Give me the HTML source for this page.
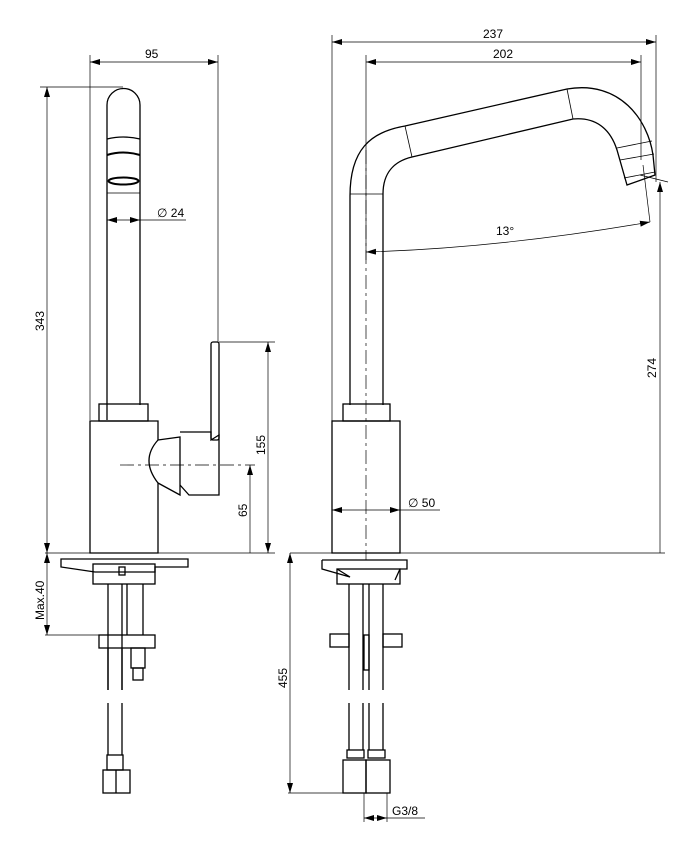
<!DOCTYPE html>
<html><head><meta charset="utf-8"><style>
html,body{margin:0;padding:0;background:#fff;}
svg{display:block;}
text{font-family:"Liberation Sans",sans-serif;font-size:12px;fill:#000;}
</style></head><body>
<svg width="686" height="848" viewBox="0 0 686 848" xmlns="http://www.w3.org/2000/svg">
<defs>
<marker id="a" viewBox="0 0 10 6" refX="10" refY="3" markerWidth="10" markerHeight="6" orient="auto-start-reverse" markerUnits="userSpaceOnUse"><path d="M0,0L10,3L0,6z" fill="#000"/></marker>
</defs>
<g fill="none" stroke="#000" stroke-width="1.3">
<!-- LEFT VIEW -->
<path d="M107,420 V105 A16.5,16.5 0 0 1 140,105 V405"/>
<path d="M107,139 Q123,135 140,139"/>
<path d="M107,155 Q123,150 140,155" stroke-width="2"/>
<ellipse cx="123.5" cy="181" rx="15" ry="3.5" stroke-width="2"/>
<line x1="107" y1="193" x2="140" y2="193" stroke-width="0.8"/>
<rect x="99" y="404" width="49" height="17"/>
<path d="M90,421 H158 V440 Q140,460 158,483 V553 H90 Z"/>
<path d="M158,440 L180,437 V495 L158,483"/>
<path d="M180,432 H211 V440 L219,435 V495 H189 L180,485"/>
<rect x="211" y="342" width="8" height="98" rx="2"/>
<!-- RIGHT VIEW -->
<path d="M350,405 V196 C350,150 370,132 405,126 L567,89 C620,80 648,120 653,155 L655,175 L627,185 L617,150 C610,128 595,117 573,119 L412,157 C395,161 383,172 383,194 V405"/>
<line x1="405" y1="126" x2="412" y2="157" stroke-width="0.8"/>
<line x1="567" y1="89" x2="573" y2="119" stroke-width="0.8"/>
<line x1="350" y1="194" x2="383" y2="194" stroke-width="0.8"/>
<path d="M617,148 L652,141 M620,160 L654,154 M624,178 L655,172" stroke-width="0.8"/>
<rect x="343" y="404" width="47" height="17"/>
<rect x="332" y="421" width="68" height="132"/>
<!-- bottom left -->
<path d="M61,559 H188 V567 H155 L155,572 L95,572 L61,567 Z"/>
<rect x="93" y="564" width="62" height="20"/>
<rect x="119" y="567" width="6" height="8"/>
<path d="M108,584 V690 M122,584 V690 M127,584 V635 M143,584 V635"/>
<rect x="99" y="635" width="56" height="13"/>
<path d="M108,648 V690 M122,648 V690"/>
<rect x="131" y="648" width="14" height="20"/>
<rect x="133" y="668" width="10" height="12"/>
<path d="M108,703 V755 M122,703 V755"/>
<rect x="107" y="755" width="16" height="15"/>
<rect x="103" y="770" width="27" height="23"/>
<line x1="116" y1="770" x2="116" y2="793"/>
<!-- bottom right -->
<path d="M322,560 H407 V569 H400 L395,580 M322,560 V569 L350,577 L337,569"/>
<rect x="337" y="569" width="63" height="15"/>
<path d="M349,584 V690 M363,584 V690 M369,584 V690 M383,584 V690"/>
<path d="M349,703 V750 M363,703 V750 M369,703 V750 M383,703 V750"/>
<rect x="330" y="634" width="19" height="13"/>
<rect x="383" y="634" width="19" height="13"/>
<rect x="364" y="635" width="5" height="35"/>
<rect x="347" y="750" width="17" height="8"/>
<rect x="368" y="750" width="17" height="8"/>
<rect x="343" y="760" width="23" height="33"/>
<rect x="366" y="760" width="24" height="33"/>
</g>
<!-- dimension lines -->
<g fill="none" stroke="#000" stroke-width="0.7">
<line x1="90" y1="55" x2="90" y2="420"/>
<line x1="218" y1="55" x2="218" y2="342"/>
<line x1="90" y1="62" x2="218" y2="62" marker-start="url(#a)" marker-end="url(#a)"/>
<line x1="40" y1="87" x2="123" y2="87"/>
<line x1="47" y1="87" x2="47" y2="553" marker-start="url(#a)" marker-end="url(#a)"/>
<line x1="107" y1="220" x2="140" y2="220" marker-start="url(#a)" marker-end="url(#a)"/>
<line x1="140" y1="220" x2="186" y2="220"/>
<line x1="219" y1="342" x2="275" y2="342"/>
<line x1="268" y1="342" x2="268" y2="553" marker-start="url(#a)" marker-end="url(#a)"/>
<line x1="250" y1="465" x2="250" y2="553" marker-start="url(#a)"/>
<line x1="120" y1="465" x2="255" y2="465" stroke-dasharray="14,4,3,4"/>
<line x1="45" y1="553" x2="275" y2="553"/>
<line x1="290" y1="553" x2="665" y2="553"/>
<line x1="45" y1="635" x2="99" y2="635"/>
<line x1="47" y1="553" x2="47" y2="635" marker-start="url(#a)" marker-end="url(#a)"/>
<line x1="332" y1="35" x2="332" y2="553"/>
<line x1="656" y1="35" x2="656" y2="182"/>
<line x1="332" y1="42" x2="656" y2="42" marker-start="url(#a)" marker-end="url(#a)"/>
<line x1="366" y1="55" x2="366" y2="260"/>
<line x1="641" y1="55" x2="641" y2="160"/>
<line x1="366" y1="62" x2="641" y2="62" marker-start="url(#a)" marker-end="url(#a)"/>
<line x1="366" y1="150" x2="366" y2="560" stroke-dasharray="14,4,3,4"/>
<line x1="640" y1="175" x2="668" y2="182"/>
<line x1="660" y1="182" x2="660" y2="553" marker-start="url(#a)"/>
<path d="M366,252 Q500,248 650,222" marker-start="url(#a)" marker-end="url(#a)"/>
<line x1="643" y1="165" x2="650" y2="222"/>
<line x1="332" y1="510" x2="400" y2="510" marker-start="url(#a)" marker-end="url(#a)"/>
<line x1="400" y1="510" x2="440" y2="510"/>
<line x1="290" y1="553" x2="290" y2="793" marker-start="url(#a)" marker-end="url(#a)"/>
<line x1="288" y1="793" x2="343" y2="793"/>
<line x1="364" y1="793" x2="364" y2="822"/>
<line x1="387" y1="793" x2="387" y2="822"/>
<line x1="364" y1="818" x2="387" y2="818" marker-start="url(#a)" marker-end="url(#a)"/>
<line x1="387" y1="818" x2="425" y2="818"/>
</g>
<text x="145" y="58">95</text>
<text x="483" y="38">237</text>
<text x="493" y="58">202</text>
<text x="157" y="217">∅ 24</text>
<text x="408" y="507">∅ 50</text>
<text x="496" y="235">13°</text>
<text x="392" y="815">G3/8</text>
<text transform="translate(44,331) rotate(-90)">343</text>
<text transform="translate(265,455) rotate(-90)">155</text>
<text transform="translate(247,517) rotate(-90)">65</text>
<text transform="translate(44,620) rotate(-90)">Max.40</text>
<text transform="translate(656,378) rotate(-90)">274</text>
<text transform="translate(287,688) rotate(-90)">455</text>
</svg>
</body></html>
